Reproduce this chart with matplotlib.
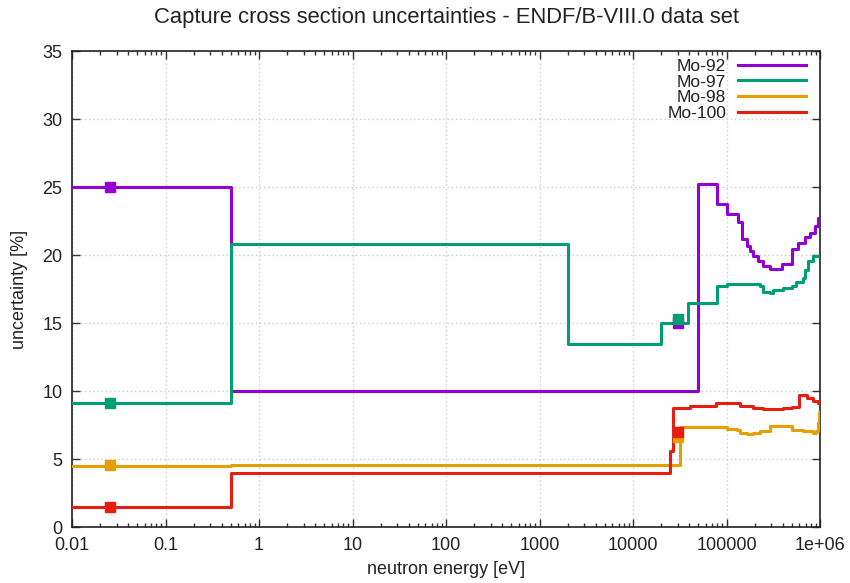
import matplotlib
matplotlib.use("Agg")
import matplotlib.pyplot as plt
from matplotlib.ticker import LogLocator, FixedLocator, NullFormatter

plt.rcParams['font.family'] = ['Liberation Sans', 'DejaVu Sans']

# ---- data (energies in eV, uncertainty in %) ----
mo92_E = [0.01, 0.5, 5.0e4, 7.9e4, 1.0e5, 1.33e5, 1.45e5, 1.64e5, 1.78e5, 1.91e5,
          2.16e5, 2.45e5, 2.91e5, 3.88e5, 4.97e5, 5.84e5, 6.9e5, 7.8e5, 8.8e5, 9.5e5, 1.0e6]
mo92_U = [25.0, 10.0, 25.2, 23.75, 23.0, 22.4, 21.2, 20.7, 20.3, 19.95,
          19.6, 19.2, 19.0, 19.35, 20.45, 20.9, 21.3, 21.65, 22.15, 22.75, 22.75]

mo97_E = [0.01, 0.5, 2000, 1.98e4, 3.9e4, 7.9e4, 1.0e5, 1.64e5, 2.27e5, 2.45e5, 2.91e5,
          3.16e5, 4.0e5, 5.0e5, 5.6e5, 6.6e5, 6.9e5, 7.5e5, 8.4e5, 1.0e6]
mo97_U = [9.1, 20.8, 13.5, 15.0, 16.5, 17.7, 17.9, 17.85, 17.7, 17.3, 17.2,
          17.45, 17.55, 17.75, 18.0, 18.3, 18.9, 19.6, 19.9, 19.9]

mo98_E = [0.01, 0.5, 3.15e4, 8.1e4, 1.0e5, 1.28e5, 1.39e5, 1.64e5, 1.92e5, 2.27e5, 2.91e5,
          5.0e5, 6.6e5, 8.4e5, 9.0e5, 9.5e5, 9.8e5, 1.0e6]
mo98_U = [4.5, 4.6, 7.35, 7.35, 7.2, 7.15, 6.95, 6.85, 6.95, 7.1, 7.45,
          7.15, 7.1, 6.95, 7.1, 7.7, 8.5, 8.5]

mo100_E = [0.01, 0.5, 2.46e4, 2.68e4, 4.07e4, 7.8e4, 1.04e5, 1.39e5, 1.92e5, 2.45e5, 4.0e5,
           5.0e5, 6.0e5, 7.2e5, 8.4e5, 9.6e5, 1.0e6]
mo100_U = [1.5, 4.0, 5.6, 8.75, 8.92, 9.12, 9.1, 8.92, 8.75, 8.67, 8.75,
           8.85, 9.73, 9.5, 9.25, 9.1, 9.1]

# point values (thermal 0.0253 eV and 30 keV)
pt_E = [0.0253, 3.0e4]
mo92_pt = [25.0, 15.0]
mo97_pt = [9.1, 15.3]
mo98_pt = [4.6, 6.6]
mo100_pt = [1.5, 7.0]

labels = ["Mo-92", "Mo-97", "Mo-98", "Mo-100"]
colors = ["#9400D3", "#009E73", "#E69F00", "#E51E10"]

xticks = [0.01, 0.1, 1, 10, 100, 1000, 10000, 100000, 1e6]
xticklabels = ["0.01", "0.1", "1", "10", "100", "1000", "10000", "100000", "1e+06"]
yticks = [0, 5, 10, 15, 20, 25, 30, 35]

fig = plt.figure(figsize=(8.5, 5.83), dpi=100)
ax = fig.add_axes([72/850, 1-527.3/583, (820-72)/850, (527.3-51)/583])

series = [(mo92_E, mo92_U, mo92_pt), (mo97_E, mo97_U, mo97_pt),
          (mo98_E, mo98_U, mo98_pt), (mo100_E, mo100_U, mo100_pt)]
for (E, U, P), lab, c in zip(series, labels, colors):
    ax.step(E, U, where='post', color=c, lw=2.2, label=lab, zorder=3)
for (E, U, P), c in zip(series, colors):
    ax.plot(pt_E, P, 's', color=c, ms=7, zorder=4, linestyle='none')

ax.set_xscale('log')
ax.set_xlim(0.01, 1e6)
ax.set_ylim(0, 35)
ax.xaxis.set_major_locator(FixedLocator(xticks))
ax.set_xticklabels(xticklabels)
ax.xaxis.set_minor_locator(LogLocator(base=10, subs=range(2, 10), numticks=100))
ax.xaxis.set_minor_formatter(NullFormatter())
ax.set_yticks(yticks)
ax.tick_params(axis='both', which='both', direction='in', top=True, right=True,
               labelsize=13, colors='#333333', labelcolor='#222222')
ax.tick_params(which='major', length=6, width=1)
ax.tick_params(which='minor', length=3, width=1)
ax.tick_params(axis='x', pad=7)
ax.tick_params(axis='y', pad=7)
ax.grid(True, which='major', color='#cccccc', linestyle=(0, (1, 2)), linewidth=1)
for s in ax.spines.values():
    s.set_color('#222222')
    s.set_linewidth(1.2)

ax.set_xlabel("neutron energy [eV]", fontsize=13, labelpad=5, color='#222222')
ax.set_ylabel("uncertainty [%]", fontsize=13, labelpad=10, color='#222222')
ax.set_title("Capture cross section uncertainties - ENDF/B-VIII.0 data set",
             fontsize=15.8, pad=20, color='#222222')

leg = ax.legend(loc='upper right', frameon=False, markerfirst=False, fontsize=12.5,
                handlelength=3.9, handletextpad=0.7, labelspacing=0.03,
                borderaxespad=0.4, bbox_to_anchor=(1.0, 1.013))
for t in leg.get_texts():
    t.set_color('#222222')

fig.savefig("out.png", dpi=100)
